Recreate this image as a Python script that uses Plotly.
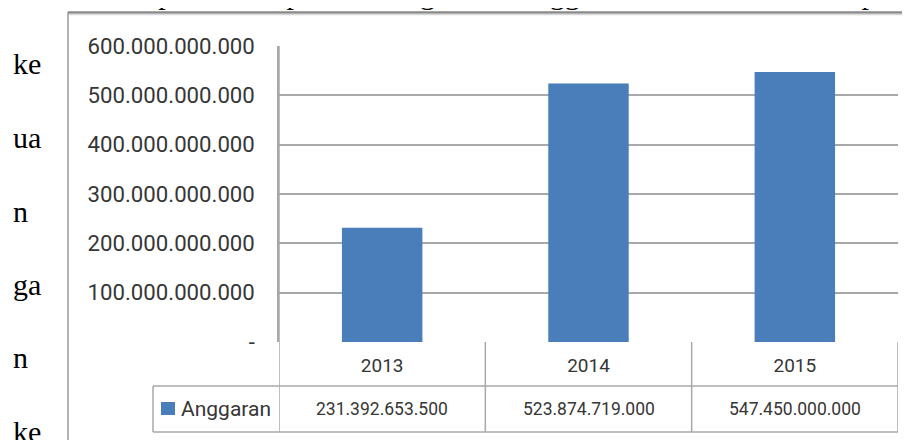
import plotly.graph_objects as go

# ---- data ----
years = ["2013", "2014", "2015"]
anggaran = [231392653500, 523874719000, 547450000000]
series_name = "Anggaran"
y_tickvals = [0, 100e9, 200e9, 300e9, 400e9, 500e9, 600e9]
y_ticktext = ["-", "100.000.000.000", "200.000.000.000", "300.000.000.000",
              "400.000.000.000", "500.000.000.000", "600.000.000.000"]
side_words = ["ke", "ua", "n", "ga", "n", "ke"]
top_line_text = "dapat dilihat perkembangan dua anggaran PKH dalam tahun program"

# ---- geometry (reference pixels; page body has an 8px margin) ----
OFF = 8
W, H = 910, 440
PL, PR, PT, PB = 279 - OFF, 898 - OFF, 46 - OFF, 342 - OFF  # plot area in figure px


def px(x):
    return (x - OFF - PL) / (PR - PL)


def py(y):
    return (PB - (y - OFF)) / (PB - PT)


BLUE = "#4a7ebb"
GRID = "#a8a8a8"
TXT = "#363636"
SANS = "Roboto, sans-serif"
SERIF = "Liberation Serif, Times New Roman, serif"

fig = go.Figure()
fig.add_trace(go.Bar(x=years, y=anggaran, name=series_name, showlegend=False,
                     marker=dict(color=BLUE, line=dict(width=0))))

shapes = []
line = dict(color=GRID, width=1.5)
# data-table horizontal lines
for yy in (386, 432):
    shapes.append(dict(type="line", xref="paper", yref="paper", x0=px(153), x1=1,
                       y0=py(yy), y1=py(yy), line=line))
# data-table vertical lines at category boundaries
for i in range(len(years) + 1):
    shapes.append(dict(type="line", xref="x", yref="paper", x0=i - 0.5, x1=i - 0.5,
                       y0=0 if i > 0 else 1, y1=py(432), line=line))
# legend cell left edge
shapes.append(dict(type="line", xref="paper", yref="paper", x0=px(153), x1=px(153),
                   y0=py(386), y1=py(432), line=line))
# legend key
shapes.append(dict(type="rect", xref="paper", yref="paper", x0=px(161), x1=px(175),
                   y0=py(402), y1=py(415), fillcolor=BLUE, line=dict(width=0)))
# outer chart frame (document)
shapes.append(dict(type="line", xref="paper", yref="paper", x0=px(68), x1=px(68),
                   y0=py(12), y1=py(460), line=dict(color="#9a9a9a", width=1.5)))
shapes.append(dict(type="line", xref="paper", yref="paper", x0=px(68), x1=px(930),
                   y0=py(12.5), y1=py(12.5), line=dict(color="#8a8a8a", width=2.5)))
shapes.append(dict(type="line", xref="paper", yref="paper", x0=px(69), x1=px(930),
                   y0=py(14.5), y1=py(14.5), line=dict(color="#d8d8d8", width=1.5)))

annotations = []
# data table values
for i, v in enumerate(anggaran):
    annotations.append(dict(xref="x", yref="paper", x=i, y=py(409),
                            text=f"{v:,.0f}".replace(",", "."), showarrow=False,
                            xanchor="center", yanchor="middle",
                            font=dict(family=SANS, size=17.5, color=TXT)))
# legend label
annotations.append(dict(xref="paper", yref="paper", x=px(179), y=py(409),
                        text=series_name, showarrow=False, xanchor="left",
                        yanchor="middle", font=dict(family=SANS, size=21, color=TXT)))
# side text of the document
side_centers = [63, 137, 211, 284, 358, 432]
for w, c in zip(side_words, side_centers):
    annotations.append(dict(xref="paper", yref="paper", x=px(11), y=py(c),
                            text=w, showarrow=False, xanchor="left", yanchor="middle",
                            font=dict(family=SERIF, size=30, color="black")))
# top (cropped) text line of the document
annotations.append(dict(xref="paper", yref="paper", x=px(128), y=py(-7),
                        text=top_line_text, showarrow=False, xanchor="left",
                        yanchor="middle",
                        font=dict(family=SERIF, size=30, color="black")))

fig.update_layout(
    width=W, height=H,
    margin=dict(l=PL, r=W - PR, t=PT, b=H - PB, pad=0),
    paper_bgcolor="white", plot_bgcolor="white",
    bargap=0.61,
    showlegend=False,
    shapes=shapes,
    annotations=annotations,
    xaxis=dict(type="category", categoryorder="array", categoryarray=years,
               showgrid=False, zeroline=False, showline=False, ticks="",
               tickfont=dict(family=SANS, size=19, color=TXT),
               ticklabelstandoff=10, range=[-0.5, 2.5], automargin=False),
    yaxis=dict(range=[0, 600e9], tickvals=y_tickvals, ticktext=y_ticktext,
               showgrid=True, gridcolor=GRID, gridwidth=1.5, zeroline=False,
               showline=True, linecolor=GRID, linewidth=1.5, ticks="",
               ticklabelstandoff=18, automargin=False,
               tickfont=dict(family=SANS, size=22.2, color=TXT)),
)

fig.write_html("out.html")
